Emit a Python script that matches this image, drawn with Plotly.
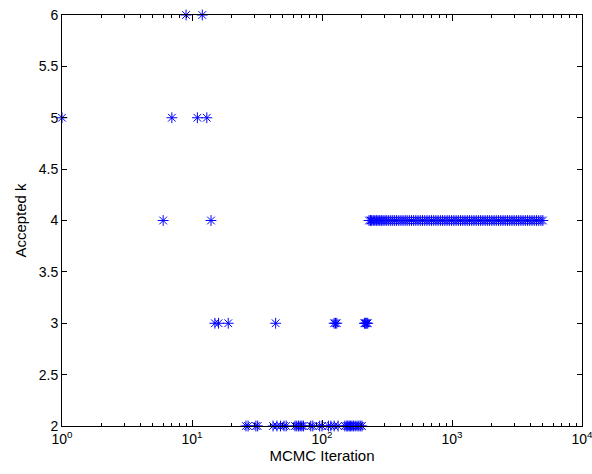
import plotly.graph_objects as go

iter_k6 = [9, 12]
iter_k5 = [1, 7, 11, 13]
iter_k4_early = [6, 14]
iter_k3 = [15, 16, 19, 44, 124, 127, 130, 212, 215, 218, 221, 225]
iter_k2 = [26, 27, 31, 32, 42, 45, 48, 51, 53, 62, 64, 66, 68, 70, 72, 82, 85,
           96, 100, 112, 117, 124, 133, 150, 155, 158, 162, 166, 170, 175, 180,
           186, 192, 197, 203]
iter_k4_late = [230, 236, 241, 248, 255, 262, 270, 278, 286, 295, 305, 315, 326,
                338, 350, 362, 375, 390, 405, 420, 436, 452, 470, 488, 507, 527,
                548, 570, 593, 617, 642, 668, 695, 723, 752, 782, 814, 847, 881,
                917, 954, 993, 1033, 1075, 1118, 1163, 1210, 1259, 1310, 1363,
                1418, 1475, 1535, 1597, 1661, 1728, 1798, 1871, 1946, 2025, 2107,
                2192, 2280, 2372, 2468, 2568, 2671, 2779, 2891, 3008, 3129, 3255,
                3387, 3523, 3665, 3813, 3967, 4127, 4293, 4466, 4646, 4833, 5000]

groups = [(iter_k6, 6), (iter_k5, 5), (iter_k4_early, 4), (iter_k3, 3),
          (iter_k2, 2), (iter_k4_late, 4)]
xs, ys = [], []
for its, k in groups:
    xs += its
    ys += [k] * len(its)

x_tickvals = [1, 10, 100, 1000, 10000]
x_ticktext = ["10<sup>0</sup>", "10<sup>1</sup>", "10<sup>2</sup>",
              "10<sup>3</sup>", "10<sup>4</sup>"]
x_minor_vals = [m * d for d in (1, 10, 100, 1000) for m in range(2, 10)]
y_tickvals = [2, 2.5, 3, 3.5, 4, 4.5, 5, 5.5, 6]
y_ticktext = ["2", "2.5", "3", "3.5", "4", "4.5", "5", "5.5", "6"]

fig = go.Figure(go.Scatter(
    x=xs, y=ys, mode="markers",
    marker=dict(symbol="asterisk-open", size=9, color="#0000FF",
                line=dict(color="#0000FF", width=1)),
    cliponaxis=False,
))

font = dict(family="Liberation Sans, Arial, sans-serif", size=14, color="black")
fig.update_layout(
    width=592, height=474,
    margin=dict(l=62, r=10, t=15, b=48),
    paper_bgcolor="white", plot_bgcolor="white",
    font=font, showlegend=False,
    xaxis=dict(
        type="log", range=[0, 4], automargin=False,
        tickvals=x_tickvals, ticktext=x_ticktext,
        ticklabeloverflow="allow",
        ticks="inside", ticklen=6, tickcolor="black", tickwidth=1,
        showline=True, linecolor="black", linewidth=1, mirror="ticks",
        showgrid=False, zeroline=False,
        minor=dict(tickvals=x_minor_vals, ticks="inside", ticklen=3,
                   tickcolor="black", tickwidth=1, showgrid=False),
        title=dict(text="MCMC Iteration", standoff=3, font=dict(size=15)),
        tickfont=dict(size=14),
    ),
    yaxis=dict(
        range=[2, 6], tickvals=y_tickvals, ticktext=y_ticktext,
        automargin=False,
        ticks="inside", ticklen=5, tickcolor="black", tickwidth=1,
        showline=True, linecolor="black", linewidth=1, mirror="ticks",
        showgrid=False, zeroline=False,
        title=dict(text="Accepted k", standoff=8, font=dict(size=15)),
        tickfont=dict(size=14),
    ),
)

fig.write_html("out.html")
